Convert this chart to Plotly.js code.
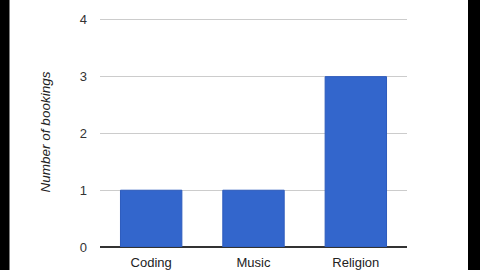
<!DOCTYPE html>
<html>
<head>
<meta charset="utf-8">
<script src="https://cdn.plot.ly/plotly-3.0.1.min.js"></script>
<style>html,body{margin:0;padding:0;background:#fff;}#chart{width:480px;height:270px;}</style>
</head>
<body>
<div id="chart"></div>
<script>
const categories = ["Coding", "Music", "Religion"];
const bookings = [1, 1, 3];
const yTicks = [0, 1, 2, 3, 4];

const trace = {
  type: "bar",
  x: categories,
  y: bookings,
  marker: { color: "#3366cc", line: { color: "#2d5bbd", width: 1 } },
  hoverinfo: "none"
};

const pw = 307; // plot width in px (for paper-relative black bands)
const layout = {
  width: 480,
  height: 270,
  margin: { l: 100, r: 73, t: 15, b: 23, pad: 0 },
  paper_bgcolor: "#ffffff",
  plot_bgcolor: "#ffffff",
  showlegend: false,
  bargap: 0.4,
  font: { family: "Liberation Sans, Arial, sans-serif", color: "#222222", size: 13 },
  xaxis: {
    type: "category",
    showgrid: false,
    showline: false,
    zeroline: false,
    ticks: "",
    ticklabelstandoff: 6,
    tickfont: { size: 13, color: "#222222" },
    fixedrange: true
  },
  yaxis: {
    range: [0, 4.05],
    tickvals: yTicks,
    ticktext: yTicks.map(String),
    showgrid: true,
    gridcolor: "#cccccc",
    gridwidth: 1,
    zeroline: true,
    zerolinecolor: "#333333",
    zerolinewidth: 1.5,
    showline: false,
    ticks: "",
    ticklabelstandoff: 12,
    automargin: true,
    tickfont: { size: 13, color: "#333333" },
    title: { text: "Number of bookings", standoff: 26, font: { size: 13.5, style: "italic", color: "#222222" } },
    fixedrange: true
  },
  shapes: [
    { type: "rect", xref: "paper", yref: "paper", x0: -100 / pw, x1: (9.5 - 100) / pw, y0: -1, y1: 2, fillcolor: "#000000", line: { width: 0 }, layer: "above" },
    { type: "rect", xref: "paper", yref: "paper", x0: (468 - 100) / pw, x1: (480 - 100) / pw, y0: -1, y1: 2, fillcolor: "#000000", line: { width: 0 }, layer: "above" }
  ]
};

Plotly.newPlot("chart", [trace], layout, { displayModeBar: false, staticPlot: true });
</script>
</body>
</html>
